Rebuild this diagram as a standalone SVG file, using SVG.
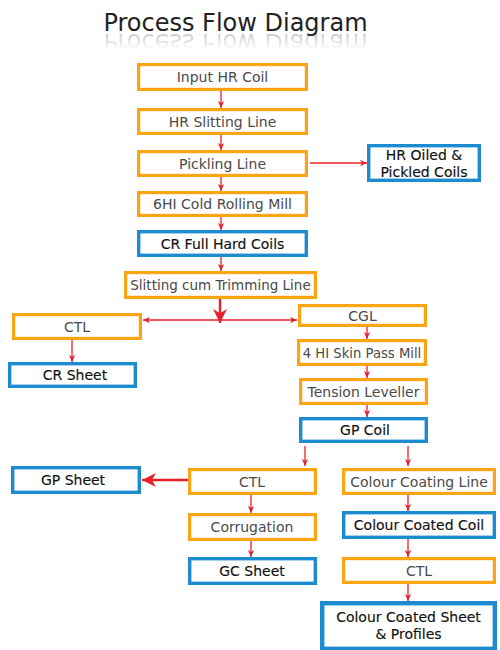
<svg xmlns="http://www.w3.org/2000/svg" xmlns:xlink="http://www.w3.org/1999/xlink" width="500" height="650" viewBox="0 0 500 650">
<style>
.o{fill:#fff;stroke:#FBA414;stroke-width:3.2}
.b{fill:#fff;stroke:#1C8BCF;stroke-width:3.4}
.t{font-family:"DejaVu Sans","Liberation Sans",sans-serif;font-size:14px;text-anchor:middle}
.to{fill:#4a4a4a}
.tb{fill:#111;stroke:#111;stroke-width:0.15}
.c{stroke:#E8202A;stroke-width:1.3;fill:none}
.ct{stroke:#E8202A;stroke-width:2.4;fill:none}
.title{font-family:"DejaVu Sans","Liberation Sans",sans-serif;font-size:24px;fill:#222;text-anchor:middle}
</style>
<defs>
<marker id="a" viewBox="0 0 10 10" refX="10" refY="5" markerWidth="7" markerHeight="7" markerUnits="userSpaceOnUse" orient="auto"><path d="M0,0.5 L10,5 L0,9.5 L3,5 Z" fill="#E8202A"/></marker>
<marker id="A" viewBox="0 0 10 10" refX="10" refY="5" markerWidth="14" markerHeight="14" markerUnits="userSpaceOnUse" orient="auto"><path d="M0,0 L10,5 L0,10 L3,5 Z" fill="#E8202A"/></marker>
<linearGradient id="rg" x1="0" y1="33" x2="0" y2="50" gradientUnits="userSpaceOnUse"><stop offset="0" stop-color="#fff" stop-opacity="0.25"/><stop offset="1" stop-color="#fff" stop-opacity="0"/></linearGradient>
<mask id="rm" maskUnits="userSpaceOnUse" x="0" y="0" width="500" height="650"><rect x="0" y="32" width="500" height="20" fill="url(#rg)"/></mask>
</defs>
<rect width="500" height="650" fill="#fff"/>
<g id="title">
<text id="titletext" class="title" x="235.5" y="31">Process Flow Diagram</text>
<g mask="url(#rm)"><use xlink:href="#titletext" transform="translate(0,65) scale(1,-1)"/></g>
</g>
<g id="connectors">
<path class="c" d="M221,91 V108" marker-end="url(#a)"/>
<path class="c" d="M221,135 V150" marker-end="url(#a)"/>
<path class="c" d="M221,177 V191" marker-end="url(#a)"/>
<path class="c" d="M221,217 V230" marker-end="url(#a)"/>
<path class="c" d="M221,257 V271" marker-end="url(#a)"/>
<path class="c" d="M310,163 H367" marker-end="url(#a)"/>
<path class="ct" d="M220,299 V323" marker-end="url(#A)"/>
<path class="c" d="M220,320 H143" marker-end="url(#a)"/>
<path class="c" d="M220,320 H297" marker-end="url(#a)"/>
<path class="c" d="M72,340 V362" marker-end="url(#a)"/>
<path class="c" d="M367,327 V339" marker-end="url(#a)"/>
<path class="c" d="M367,366 V378" marker-end="url(#a)"/>
<path class="c" d="M367,405 V417" marker-end="url(#a)"/>
<path class="c" d="M305,446 V466" marker-end="url(#a)"/>
<path class="c" d="M408,446 V466" marker-end="url(#a)"/>
<path class="ct" d="M188,480 H142" marker-end="url(#A)"/>
<path class="c" d="M251,495 V513" marker-end="url(#a)"/>
<path class="c" d="M251,541 V557" marker-end="url(#a)"/>
<path class="c" d="M408,495 V511" marker-end="url(#a)"/>
<path class="c" d="M408,539 V557" marker-end="url(#a)"/>
<path class="c" d="M408,584 V601" marker-end="url(#a)"/>
</g>
<g id="n1"><rect class="o" x="138.6" y="64.6" width="167.8" height="24.8"/><text class="t to" x="222.5" y="82">Input HR Coil</text></g>
<g id="n2"><rect class="o" x="138.6" y="109.6" width="167.8" height="23.8"/><text class="t to" x="222.5" y="126.5">HR Slitting Line</text></g>
<g id="n3"><rect class="o" x="138.6" y="151.6" width="167.8" height="23.8"/><text class="t to" x="222.5" y="168.5">Pickling Line</text></g>
<g id="n4"><rect class="o" x="138.6" y="192.6" width="167.8" height="22.8"/><text class="t to" x="222.5" y="209">6HI Cold Rolling Mill</text></g>
<g id="n5"><rect class="b" x="368.7" y="145.7" width="110.6" height="34.6"/><text class="t tb" x="424" y="160">HR Oiled &amp;</text><text class="t tb" x="424" y="177">Pickled Coils</text></g>
<g id="n6"><rect class="b" x="138.7" y="231.7" width="167.6" height="23.6"/><text class="t tb" x="222.5" y="248.5">CR Full Hard Coils</text></g>
<g id="n7"><rect class="o" x="125.6" y="272.6" width="189.8" height="24.8"/><text class="t to" x="220.5" y="289.8" style="font-size:13.5px">Slitting cum Trimming Line</text></g>
<g id="n8"><rect class="o" x="13.6" y="314.6" width="126.8" height="23.8"/><text class="t to" x="77" y="331.5">CTL</text></g>
<g id="n9"><rect class="b" x="9.7" y="363.7" width="125.6" height="22.6"/><text class="t tb" x="75" y="380">CR Sheet</text></g>
<g id="n10"><rect class="o" x="299.6" y="305.6" width="125.8" height="19.8"/><text class="t to" x="362.5" y="320.5">CGL</text></g>
<g id="n11"><rect class="o" x="298.6" y="340.6" width="126.8" height="23.8"/><text class="t to" x="362" y="357.5" style="font-size:13.2px">4 HI Skin Pass Mill</text></g>
<g id="n12"><rect class="o" x="300.6" y="379.6" width="125.8" height="23.8"/><text class="t to" x="363.5" y="396.5">Tension Leveller</text></g>
<g id="n13"><rect class="b" x="300.7" y="418.7" width="125.6" height="22.6"/><text class="t tb" x="365" y="435">GP Coil</text></g>
<g id="n14"><rect class="b" x="12.7" y="467.7" width="126.6" height="24.6"/><text class="t tb" x="73" y="485">GP Sheet</text></g>
<g id="n15"><rect class="o" x="189.6" y="469.6" width="125.8" height="23.8"/><text class="t to" x="252" y="486.5">CTL</text></g>
<g id="n16"><rect class="o" x="189.6" y="514.6" width="125.8" height="24.8"/><text class="t to" x="252" y="532">Corrugation</text></g>
<g id="n17"><rect class="b" x="189.7" y="558.7" width="125.6" height="24.6"/><text class="t tb" x="252" y="576">GC Sheet</text></g>
<g id="n18"><rect class="o" x="343.6" y="469.6" width="150.8" height="23.8"/><text class="t to" x="419" y="486.5">Colour Coating Line</text></g>
<g id="n19"><rect class="b" x="343.7" y="512.7" width="150.6" height="24.6"/><text class="t tb" x="419" y="530">Colour Coated Coil</text></g>
<g id="n20"><rect class="o" x="343.6" y="558.6" width="150.8" height="23.8"/><text class="t to" x="419" y="575.5">CTL</text></g>
<g id="n21"><rect class="b" x="322.2" y="603.2" width="172.6" height="45.6" style="stroke-width:4.4"/><text class="t tb" x="408.5" y="622">Colour Coated Sheet</text><text class="t tb" x="408.5" y="638.5">&amp; Profiles</text></g>
</svg>
